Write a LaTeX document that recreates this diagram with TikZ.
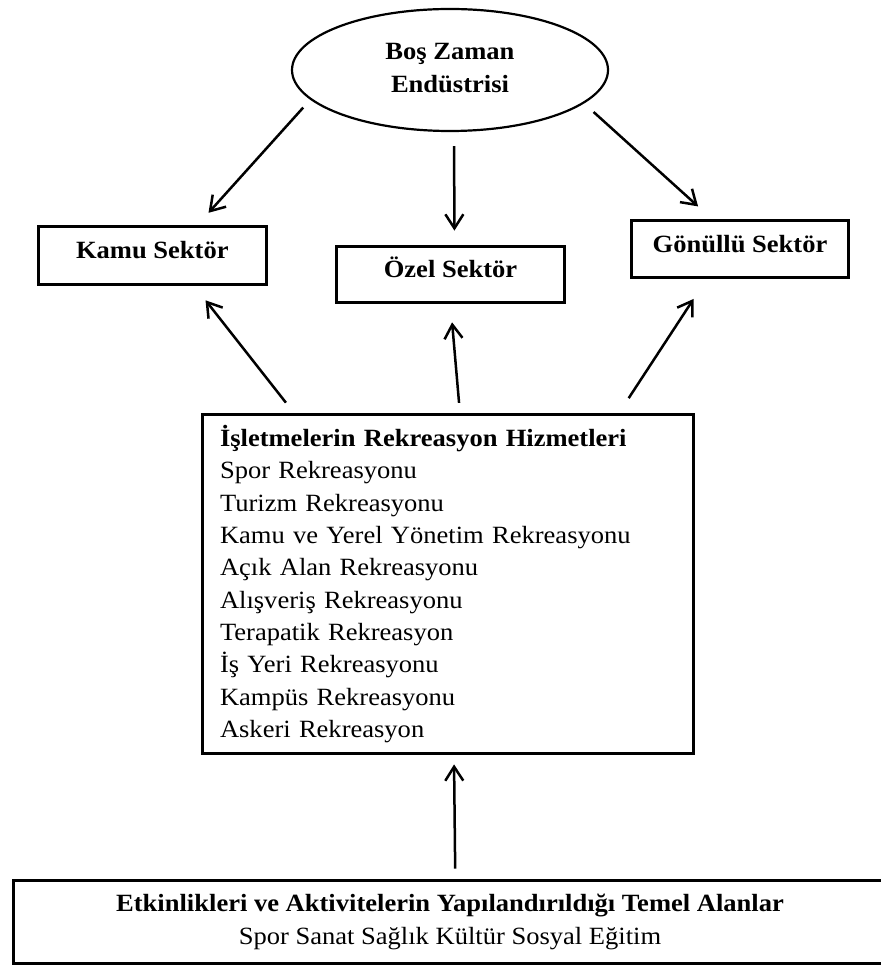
\documentclass[tikz,border=0pt]{standalone}
\usepackage{fontspec}
\setmainfont{Liberation Serif}[FakeStretch=1.07]
\usepackage{tikz}
\usetikzlibrary{
  arrows.meta,%
  shapes.geometric
}
\tikzset{>={Straight Barb[length=7pt,width=9pt]}}
\tikzset{font=\fontsize{12.4}{16.15}\selectfont}
\tikzset{sektor/.style={draw, line width=1.5pt, font=\fontsize{12.4}{16.15}\selectfont\bfseries,
    text height=9pt, text depth=5.5pt}}
\tikzset{ok/.style={->, line width=1.25pt}}

\begin{document}
\begin{tikzpicture}[x=0.5pt, y=-0.5pt]
        \useasboundingbox (0,0) rectangle (880,967);
        \node[ellipse, draw, line width=1.1pt, minimum width=158pt, minimum height=61pt, align=center,
          text depth=2pt, font=\fontsize{12.4}{16.5}\selectfont\bfseries] (boz) at (450,70) {Boş Zaman\\Endüstrisi};
        \node[sektor, minimum width=114.25pt, minimum height=29pt] (kamu) at (152.3,255.5) {Kamu Sektör};
        \node[sektor, minimum width=114pt, minimum height=28pt] (ozel) at (450.5,274.5) {Özel Sektör};
        \node[sektor, minimum width=108.5pt, minimum height=28.5pt] (gonullu) at (740,249) {Gönüllü Sektör};
        \node[draw, line width=1.3pt, minimum height=169.5pt, text width=228pt, inner xsep=8.75pt,
          align=left] (hizmet) at (448,584) {\textbf{İşletmelerin Rekreasyon Hizmetleri}\\
          Spor Rekreasyonu\\
          Turizm Rekreasyonu\\
          Kamu ve Yerel Yönetim Rekreasyonu\\
          Açık Alan Rekreasyonu\\
          Alışveriş Rekreasyonu\\
          Terapatik Rekreasyon\\
          İş Yeri Rekreasyonu\\
          Kampüs Rekreasyonu\\
          Askeri Rekreasyon};
        \node[draw, line width=1.5pt, minimum width=436.5pt, minimum height=41.5pt, align=center,
          font=\fontsize{12.4}{16.5}\selectfont] (alan) at (450,922)
          {\textbf{Etkinlikleri ve Aktivitelerin Yapılandırıldığı Temel Alanlar}\\
          Spor Sanat Sağlık Kültür Sosyal Eğitim};
        \draw[ok, shorten <=5.3pt, shorten >=8.2pt] (boz.192) -- (kamu.34.6);
        \draw[ok, shorten <=7pt, shorten >=7.2pt] ([xshift=2pt]boz.south) -- ([xshift=2pt]ozel.north);
        \draw[ok, shorten <=6.4pt, shorten >=9.4pt] (boz.346.4) -- (gonullu.133);
        \draw[ok, shorten <=6.7pt, shorten >=9.1pt] (hizmet.132) -- (kamu.324.7);
        \draw[ok, shorten <=5.2pt, shorten >=9.2pt] (hizmet.86) -- (ozel.south);
        \draw[ok, shorten <=9pt, shorten >=11.9pt] (hizmet.45.6) -- (gonullu.222.3);
        \draw[ok, shorten <=5.2pt, shorten >=4.8pt] (alan.83.1) -- (hizmet.272.4);
      \end{tikzpicture}
\end{document}
